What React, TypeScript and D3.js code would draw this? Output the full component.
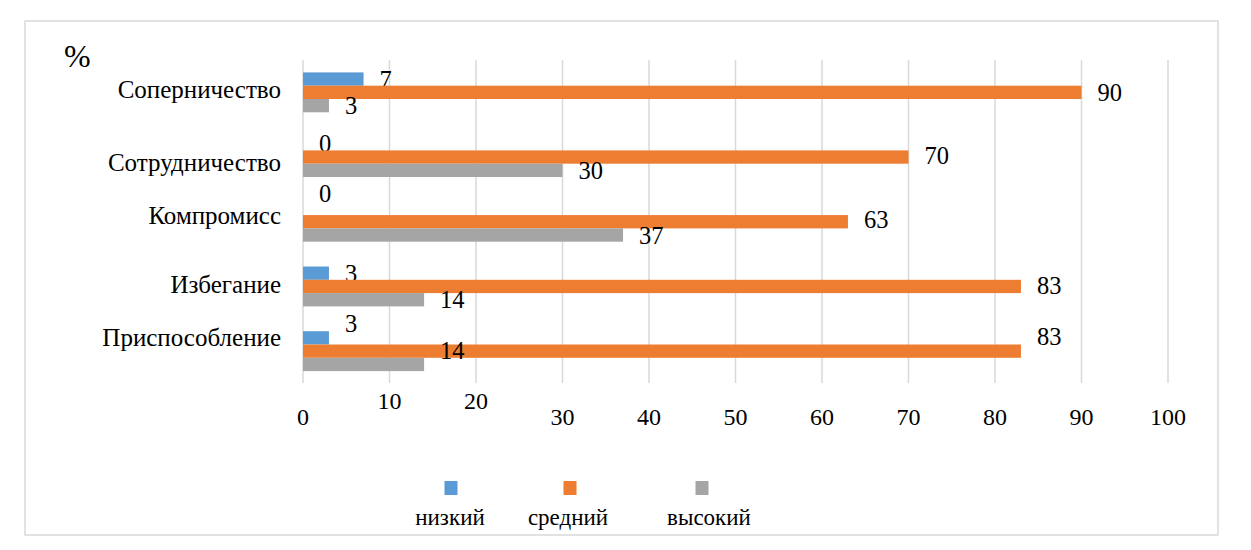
import React from "react";
import * as d3 from "d3";

const categories = ["Соперничество", "Сотрудничество", "Компромисс", "Избегание", "Приспособление"];
const seriesNames = ["низкий", "средний", "высокий"];
const lowValues = [7, 0, 0, 3, 3];
const midValues = [90, 70, 63, 83, 83];
const highValues = [3, 30, 37, 14, 14];
const xTicks = [0, 10, 20, 30, 40, 50, 60, 70, 80, 90, 100];
const colors = ["#5B9BD5", "#ED7D31", "#A5A5A5"];

// layout tweaks (label nudges as in the reference)
const catLabelDy = [-3, 5, -7, -2, -14];
const valueLabelDy = [
  [0, 0, 0],
  [0, -2, 0],
  [-15, -2, 0],
  [0, -1, 0],
  [-14, -15, -14],
];
const tickLabelDy = [0, -16, -16, 0, 0, 0, 0, 0, 0, 0, 0];

const W = 1251;
const H = 550;
const FONT = "Liberation Serif";

export default function App() {
  const x = d3.scaleLinear().domain([0, 100]).range([303, 1168]);
  const y = d3.scaleBand<string>().domain(categories).range([60, 383.5]).padding(0);
  const barH = 13.3;
  const series = [lowValues, midValues, highValues];
  const ts = { fontFamily: FONT };

  return (
    <svg width={W} height={H} style={{ position: "absolute", left: 0, top: 0, background: "#fff" }}>
      <rect x={25} y={21} width={1193} height={514} fill="#fff" stroke="#D9D9D9" strokeWidth={1.5} />
      <text x={64} y={67} fontSize={32} fill="#000" style={ts}>%</text>
      {xTicks.map((t) => (
        <line key={"g" + t} x1={x(t)} x2={x(t)} y1={60} y2={383} stroke="#D9D9D9" strokeWidth={1.5} />
      ))}
      {categories.map((c, i) => {
        const cy = (y(c) as number) + y.bandwidth() / 2;
        return (
          <g key={c}>
            {series.map((s, k) => {
              const by = cy - 1.5 * barH + k * barH;
              return (
                <g key={k}>
                  <rect x={x(0)} y={by} width={x(s[i]) - x(0)} height={barH} fill={colors[k]} />
                  <text
                    x={x(s[i]) + 16}
                    y={by + barH / 2 + valueLabelDy[i][k]}
                    dy="0.35em"
                    fontSize={24.5}
                    fill="#000"
                    style={ts}
                  >
                    {s[i]}
                  </text>
                </g>
              );
            })}
            <text x={281} y={cy + catLabelDy[i]} dy="0.35em" textAnchor="end" fontSize={25} fill="#000" style={ts}>
              {c}
            </text>
          </g>
        );
      })}
      {xTicks.map((t, i) => (
        <text key={"t" + t} x={x(t)} y={417 + tickLabelDy[i]} dy="0.35em" textAnchor="middle" fontSize={24} fill="#000" style={ts}>
          {t}
        </text>
      ))}
      {seriesNames.map((n, k) => {
        const sx = [451, 570, 702][k];
        const lx = [450, 568, 709][k];
        return (
          <g key={n}>
            <rect x={sx - 6.5} y={481} width={13} height={14} fill={colors[k]} />
            <text x={lx} y={518} dy="0.3em" textAnchor="middle" fontSize={23} fill="#000" style={ts}>
              {n}
            </text>
          </g>
        );
      })}
    </svg>
  );
}
